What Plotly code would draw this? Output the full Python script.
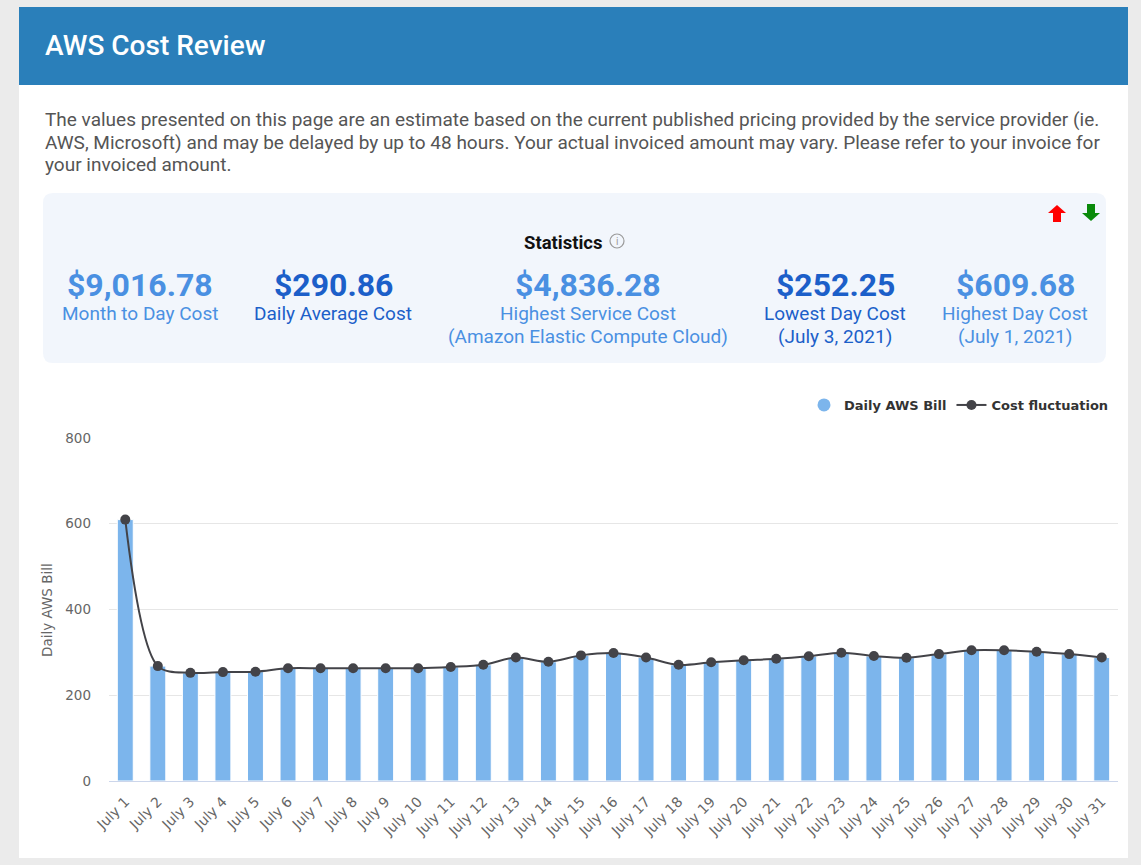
import plotly.graph_objects as go

W, H = 1141, 865

days = ["July 1", "July 2", "July 3", "July 4", "July 5", "July 6", "July 7", "July 8",
        "July 9", "July 10", "July 11", "July 12", "July 13", "July 14", "July 15", "July 16",
        "July 17", "July 18", "July 19", "July 20", "July 21", "July 22", "July 23", "July 24",
        "July 25", "July 26", "July 27", "July 28", "July 29", "July 30", "July 31"]
daily_cost = [609.68, 268, 252.25, 254, 255, 263, 263, 263, 263, 263, 266, 271, 288, 278, 293,
              298.5, 288, 271, 277, 281.5, 285, 291, 299, 291.5, 287.5, 296, 305, 305, 301.5,
              296, 288]
y_ticks = [0, 200, 400, 600, 800]

stat_values = ["$9,016.78", "$290.86", "$4,836.28", "$252.25", "$609.68"]
stat_labels = [["Month to Day Cost"], ["Daily Average Cost"],
               ["Highest Service Cost", "(Amazon Elastic Compute Cloud)"],
               ["Lowest Day Cost", "(July 3, 2021)"], ["Highest Day Cost", "(July 1, 2021)"]]

title_text = "AWS Cost Review"
intro_lines = [
    "The values presented on this page are an estimate based on the current published pricing provided by the service provider (ie.",
    "AWS, Microsoft) and may be delayed by up to 48 hours. Your actual invoiced amount may vary. Please refer to your invoice for",
    "your invoiced amount.",
]


def px(x):
    return x / W


def py(y):
    return 1 - y / H


LIGHT = "#4a90e2"
DARK = "#1c5fc9"
stat_colors = [LIGHT, DARK, LIGHT, DARK, LIGHT]
stat_cx = [140, 333, 588, 835, 1015]

fig = go.Figure()

fig.add_trace(go.Bar(
    x=days, y=daily_cost, name="Daily AWS Bill", showlegend=False,
    marker=dict(color="#7cb5ec", line=dict(color="#ffffff", width=1)),
    width=0.49,
))
# legend proxy (circle symbol like the reference)
fig.add_trace(go.Scatter(
    x=[None], y=[None], mode="markers", name="Daily AWS Bill",
    marker=dict(color="#7cb5ec", size=13, symbol="circle"),
))
fig.add_trace(go.Scatter(
    x=days, y=daily_cost, name="Cost fluctuation", mode="lines+markers",
    line=dict(color="#434348", width=2, shape="spline", smoothing=0.9),
    marker=dict(color="#434348", size=10),
))

shapes = []
shapes.append(dict(type="rect", xref="paper", yref="paper", x0=px(19), x1=px(1128),
                   y0=py(858), y1=py(7), fillcolor="#ffffff", line=dict(width=0), layer="below"))
shapes.append(dict(type="rect", xref="paper", yref="paper", x0=px(19), x1=px(1128),
                   y0=py(85), y1=py(7), fillcolor="#2a7fba", line=dict(width=0), layer="below"))


def rounded(x0, y0, x1, y1, r):
    rx, ry = r / W, r / H
    X0, X1, Y0, Y1 = px(x0), px(x1), py(y1), py(y0)
    return (f"M {X0+rx},{Y1} L {X1-rx},{Y1} Q {X1},{Y1} {X1},{Y1-ry} "
            f"L {X1},{Y0+ry} Q {X1},{Y0} {X1-rx},{Y0} L {X0+rx},{Y0} "
            f"Q {X0},{Y0} {X0},{Y0+ry} L {X0},{Y1-ry} Q {X0},{Y1} {X0+rx},{Y1} Z")


shapes.append(dict(type="path", xref="paper", yref="paper", path=rounded(43, 193, 1106, 363, 10),
                   fillcolor="#f2f6fc", line=dict(width=0), layer="below"))


def arrow(cx, top, bottom, up, color):
    hb = top + 8 if up else bottom - 8
    if up:
        pts = [(cx, top), (cx + 9, hb), (cx + 4, hb), (cx + 4, bottom), (cx - 4, bottom),
               (cx - 4, hb), (cx - 9, hb)]
    else:
        pts = [(cx, bottom), (cx + 9, hb), (cx + 4, hb), (cx + 4, top), (cx - 4, top),
               (cx - 4, hb), (cx - 9, hb)]
    p = "M " + " L ".join(f"{px(a)},{py(b)}" for a, b in pts) + " Z"
    return dict(type="path", xref="paper", yref="paper", path=p, fillcolor=color,
                line=dict(width=0), layer="above")


shapes.append(arrow(1057, 205, 222, True, "#ff0000"))
shapes.append(arrow(1091, 204, 221, False, "#0a8a0a"))
shapes.append(dict(type="circle", xref="paper", yref="paper", x0=px(610), x1=px(624),
                   y0=py(248), y1=py(234), line=dict(color="#9a9a9a", width=1.2),
                   fillcolor="rgba(0,0,0,0)"))

ann = []
ann.append(dict(text=title_text, x=px(43), y=py(46), xref="paper", yref="paper",
                xanchor="left", yanchor="middle", showarrow=False,
                font=dict(family="Roboto", size=28, color="#ffffff", weight=500)))
for i, line in enumerate(intro_lines):
    ann.append(dict(text=line, x=px(43), y=py(120 + 22 * i), xref="paper", yref="paper",
                    xanchor="left", yanchor="middle", showarrow=False,
                    font=dict(family="Roboto", size=19, color="#555555")))
ann.append(dict(text="<b>Statistics</b>", x=px(563), y=py(243), xref="paper", yref="paper",
                xanchor="center", yanchor="middle", showarrow=False,
                font=dict(family="Roboto", size=18.5, color="#111111")))
ann.append(dict(text="i", x=px(617), y=py(241), xref="paper", yref="paper",
                xanchor="center", yanchor="middle", showarrow=False,
                font=dict(family="Roboto", size=10, color="#9a9a9a")))
for v, labs, c, cx in zip(stat_values, stat_labels, stat_colors, stat_cx):
    ann.append(dict(text=f"<b>{v}</b>", x=px(cx), y=py(285), xref="paper", yref="paper",
                    xanchor="center", yanchor="middle", showarrow=False,
                    font=dict(family="Roboto", size=32, color=c)))
    for j, l in enumerate(labs):
        ann.append(dict(text=l, x=px(cx), y=py(314 + 22 * j), xref="paper", yref="paper",
                        xanchor="center", yanchor="middle", showarrow=False,
                        font=dict(family="Roboto", size=19, color=c)))
ann.append(dict(text="Daily AWS Bill", x=px(47), y=py(610), xref="paper", yref="paper",
                xanchor="center", yanchor="middle", showarrow=False, textangle=-90,
                font=dict(family="DejaVu Sans", size=13.5, color="#666666")))

fig.update_layout(
    width=W, height=H,
    margin=dict(l=0, r=0, t=0, b=0),
    paper_bgcolor="#ebebeb",
    plot_bgcolor="rgba(0,0,0,0)",
    shapes=shapes,
    annotations=ann,
    showlegend=True,
    legend=dict(orientation="h", x=px(1114), xanchor="right", y=py(405), yanchor="middle",
                bgcolor="rgba(0,0,0,0)",
                font=dict(family="DejaVu Sans", size=13, color="#333333", weight="bold")),
    xaxis=dict(domain=[px(109), px(1118)], type="category", tickangle=-45,
               range=[-0.5, len(days) - 0.5],
               tickfont=dict(family="DejaVu Sans", size=14, color="#666666"),
               showline=True, linecolor="#ccd6eb", linewidth=1, showgrid=False,
               ticks="", ticklabelstandoff=6, automargin=False, zeroline=False),
    yaxis=dict(domain=[py(781), py(438)], range=[0, 800], tickvals=y_ticks,
               tickfont=dict(family="DejaVu Sans", size=13.5, color="#666666"),
               showgrid=True, gridcolor="#e6e6e6", gridwidth=1, zeroline=False,
               ticks="", ticklabelstandoff=17, automargin=False),
)

fig.write_html("out.html", config={"displayModeBar": False},
               post_script="document.body.style.margin='0';document.body.style.background='#ebebeb';")
